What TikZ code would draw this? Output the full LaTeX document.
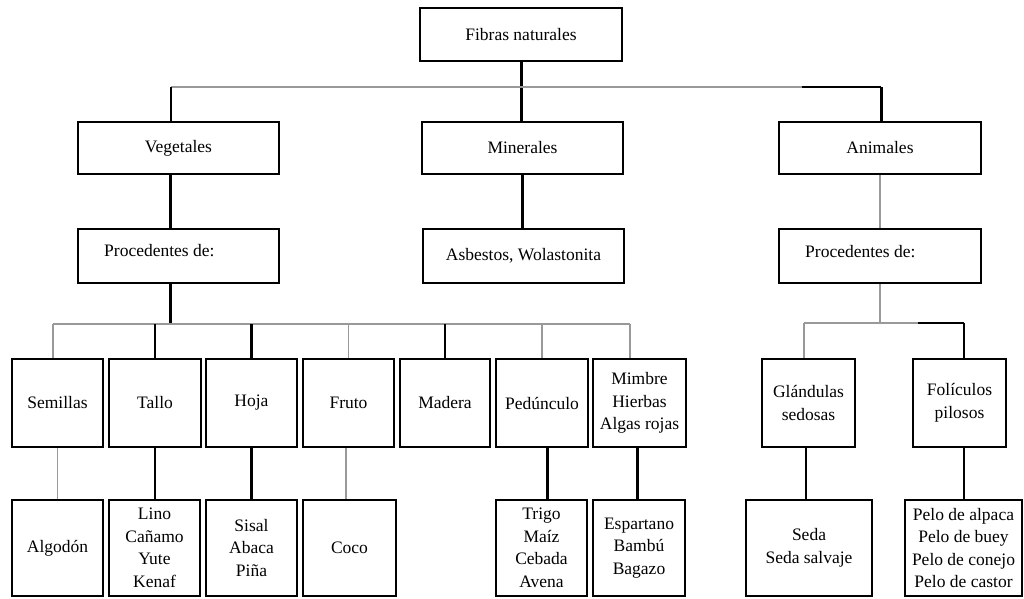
\documentclass[tikz,border=0pt]{standalone}
\usepackage{fontspec}
\setmainfont{Liberation Serif}
\definecolor{lgry}{gray}{0.6}
\begin{document}
\begin{tikzpicture}[x=1pt,y=-1pt,
  box/.style={draw, line width=2.8pt, inner sep=0pt, align=center,
    font=\fontsize{17.5}{22.5}\selectfont},
  lbl/.style={inner sep=0pt, font=\fontsize{17.5}{22.5}\selectfont},
  thk/.style={line width=3pt},
  med/.style={line width=2pt},
  dk/.style={line width=1.3pt},
  gry/.style={line width=1.5pt, draw=lgry}]
\useasboundingbox (0,0) rectangle (1024,598);
% level 0-2
\node[box, minimum width=202, minimum height=53] (fib) at (521,34.5) {Fibras naturales};
\node[box, minimum width=201, minimum height=52] (veg) at (178.5,148) {Vegetales};
\node[box, minimum width=201, minimum height=52] (min) at (522.5,148) {Minerales};
\node[box, minimum width=202, minimum height=52] (ani) at (880,148) {Animales};
\node[box, minimum width=201, minimum height=54] (p1) at (178.5,256) {};
\node[lbl, anchor=west] (p1t) at (104,251) {Procedentes de:};
\node[box, minimum width=201, minimum height=54] (asb) at (523.5,256) {Asbestos, Wolastonita};
\node[box, minimum width=202, minimum height=54] (p2) at (880,256) {};
\node[lbl, anchor=west] (p2t) at (805,252) {Procedentes de:};
% level 3
\node[box, minimum width=91, minimum height=88] (sem) at (57.5,403) {Semillas};
\node[box, minimum width=92, minimum height=88] (tal) at (155,403) {Tallo};
\node[box, minimum width=91, minimum height=88] (hoj) at (251.5,403) {Hoja};
\node[box, minimum width=91, minimum height=88] (fru) at (348.5,403) {Fruto};
\node[box, minimum width=90, minimum height=88] (mad) at (445,403) {Madera};
\node[box, minimum width=92, minimum height=88] (ped) at (542,403) {Pedúnculo};
\node[box, minimum width=93, minimum height=88] (mim) at (639.5,403) {Mimbre\\Hierbas\\Algas rojas};
\node[box, minimum width=93, minimum height=88] (gla) at (808.5,403) {Glándulas\\sedosas};
\node[box, minimum width=93, minimum height=88] (fol) at (959.5,403) {Folículos\\pilosos};
% level 4
\node[box, minimum width=91, minimum height=96] (alg) at (57.5,548) {Algodón};
\node[box, minimum width=91, minimum height=96] (lin) at (154.5,548) {Lino\\Cañamo\\Yute\\Kenaf};
\node[box, minimum width=91, minimum height=96] (sis) at (251.5,548) {Sisal\\Abaca\\Piña};
\node[box, minimum width=93, minimum height=96] (coc) at (349.5,548) {Coco};
\node[box, minimum width=91, minimum height=96] (tri) at (541.5,548) {Trigo\\Maíz\\Cebada\\Avena};
\node[box, minimum width=92, minimum height=96] (esp) at (639,548) {Espartano\\Bambú\\Bagazo};
\node[box, minimum width=126, minimum height=96] (sed) at (809,548) {Seda\\Seda salvaje};
\node[box, minimum width=117, minimum height=96] (pel) at (963.5,548) {Pelo de alpaca\\Pelo de buey\\Pelo de conejo\\Pelo de castor};
% top bus
\coordinate (tl) at (171,87);
\coordinate (tm) at (802,87);
\coordinate (tr) at (881,87);
\draw[thk] (fib.south) -- (fib.south |- min.north);
\draw[gry] (tl) -- (tm);
\draw[med] (tm) -- (tr);
\draw[dk] (tl) -- (tl |- veg.north);
\draw[thk] (tr) -- (tr |- ani.north);
\draw[thk] ([xshift=-8.5]veg.south) -- ([xshift=-8.5]p1.north);
\draw[thk] (min.south) -- (min.south |- asb.north);
\draw[gry] (ani.south) -- (p2.north);
% vegetal bus
\coordinate (b1l) at (53,324);
\coordinate (b1m) at (170,324);
\coordinate (b1r) at (630,324);
\draw[thk] ([xshift=-8.5]p1.south) -- (b1m);
\draw[gry] (b1l) -- (b1r);
\draw[gry] (b1l) -- (b1l |- sem.north);
\draw[dk] (tal.north |- b1l) -- (tal.north);
\draw[thk] (hoj.north |- b1l) -- (hoj.north);
\draw[gry] (fru.north |- b1l) -- (fru.north);
\draw[dk] (mad.north |- b1l) -- (mad.north);
\draw[gry] (ped.north |- b1l) -- (ped.north);
\draw[gry] (b1r) -- (b1r |- mim.north);
\draw[gry] (sem.south) -- (sem.south |- alg.north);
\draw[dk] (tal.south) -- (tal.south |- lin.north);
\draw[thk] (hoj.south) -- (hoj.south |- sis.north);
\draw[gry] ([xshift=-2.5]fru.south) -- ([xshift=-2.5]fru.south |- coc.north);
\draw[thk] ([xshift=5]ped.south) -- ([xshift=5]ped.south |- tri.north);
\draw[thk] ([xshift=-2.5]mim.south) -- ([xshift=-2.5]mim.south |- esp.north);
% animal bus
\coordinate (b2l) at (804,323);
\coordinate (b2m) at (918,323);
\coordinate (b2r) at (964,323);
\draw[gry] (p2.south) -- (p2.south |- b2l);
\draw[gry] (b2l) -- (b2m);
\draw[med] (b2m) -- (b2r);
\draw[gry] (b2l) -- (b2l |- gla.north);
\draw[med] (b2r) -- (b2r |- fol.north);
\draw[med] ([xshift=-3]sed.north |- gla.south) -- ([xshift=-3]sed.north);
\draw[med] (pel.north |- fol.south) -- (pel.north);
\end{tikzpicture}
\end{document}
